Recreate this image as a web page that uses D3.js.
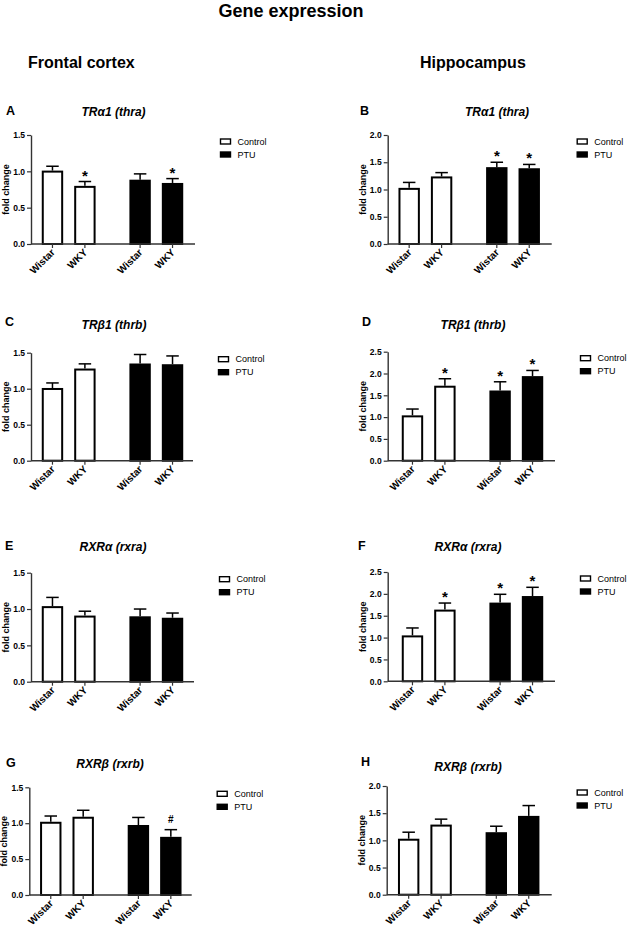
<!DOCTYPE html>
<html>
<head>
<meta charset="utf-8">
<script src="https://cdn.jsdelivr.net/npm/d3@7"></script>
<style>
  html, body { margin: 0; padding: 0; background: #fff; }
  svg { display: block; }
  text { font-family: "Liberation Sans", Arial, Helvetica, sans-serif; fill: #000; }
</style>
</head>
<body>
<svg id="chart" width="635" height="937"></svg>
<script>
// ---------- data ----------
const groups = ["Control", "PTU"];
const strains = ["Wistar", "WKY"];
const panelLetters = ["A", "B", "C", "D", "E", "F", "G", "H"];
const panelTitles = ["TRα1 (thra)", "TRα1 (thra)", "TRβ1 (thrb)", "TRβ1 (thrb)",
                     "RXRα (rxra)", "RXRα (rxra)", "RXRβ (rxrb)", "RXRβ (rxrb)"];
const columnTitles = ["Frontal cortex", "Hippocampus"];
const mainTitle = "Gene expression";
const yAxisLabel = "fold change";
const yMaxes = [1.5, 2.0, 1.5, 2.5, 1.5, 2.5, 1.5, 2.0];
const tickStep = 0.5;
// order of values: Control-Wistar, Control-WKY, PTU-Wistar, PTU-WKY
const meanA = [1.01, 0.80, 0.885, 0.84];
const semA  = [0.06, 0.06, 0.08, 0.06];
const sigA  = ["", "*", "", "*"];
const meanB = [1.03, 1.24, 1.41, 1.39];
const semB  = [0.10, 0.07, 0.09, 0.07];
const sigB  = ["", "", "*", "*"];
const meanC = [1.01, 1.28, 1.35, 1.34];
const semC  = [0.07, 0.065, 0.125, 0.115];
const sigC  = ["", "", "", ""];
const meanD = [1.04, 1.72, 1.61, 1.94];
const semD  = [0.145, 0.16, 0.20, 0.13];
const sigD  = ["", "*", "*", "*"];
const meanE = [1.04, 0.91, 0.90, 0.88];
const semE  = [0.12, 0.06, 0.10, 0.065];
const sigE  = ["", "", "", ""];
const meanF = [1.05, 1.64, 1.80, 1.95];
const semF  = [0.17, 0.15, 0.19, 0.20];
const sigF  = ["", "*", "*", "*"];
const meanG = [1.02, 1.09, 0.975, 0.81];
const semG  = [0.08, 0.09, 0.105, 0.10];
const sigG  = ["", "", "", "#"];
const meanH = [1.03, 1.29, 1.15, 1.45];
const semH  = [0.12, 0.10, 0.11, 0.19];
const sigH  = ["", "", "", ""];

const means = [meanA, meanB, meanC, meanD, meanE, meanF, meanG, meanH];
const sems  = [semA, semB, semC, semD, semE, semF, semG, semH];
const sigs  = [sigA, sigB, sigC, sigD, sigE, sigF, sigG, sigH];

// ---------- layout (positions only) ----------
const layout = [
  {x0: 31,    x1: 195,   yT: 135,   yB: 244,   shift: 0,   lab: [6, 115],   title: [113.5, 116]},
  {x0: 387.7, x1: 551.7, yT: 135,   yB: 244,   shift: 0,   lab: [360, 115], title: [497, 116]},
  {x0: 31,    x1: 193,   yT: 352.7, yB: 460.7, shift: 0,   lab: [5, 326],   title: [114, 329]},
  {x0: 387.7, x1: 555,   yT: 351.7, yB: 460.7, shift: 3.3, lab: [362, 326], title: [473, 329]},
  {x0: 31,    x1: 194,   yT: 572.7, yB: 681.7, shift: 0,   lab: [5, 550],   title: [113, 551]},
  {x0: 387.7, x1: 555,   yT: 572,   yB: 681.3, shift: 3.3, lab: [358, 550], title: [468, 551]},
  {x0: 29.3,  x1: 191.7, yT: 787.3, yB: 895,   shift: 0,   lab: [6, 767],   title: [110, 768]},
  {x0: 386.7, x1: 551.7, yT: 786,   yB: 894.7, shift: 0.5, lab: [361, 766], title: [468, 771]}
];
const plotWidth = 163;

const svg = d3.select("#chart");

// headings
svg.append("text").attr("x", 291).attr("y", 17).attr("text-anchor", "middle")
  .style("font-size", "18px").style("font-weight", "bold").text(mainTitle);
svg.append("text").attr("x", 28).attr("y", 68)
  .style("font-size", "16px").style("font-weight", "bold").text(columnTitles[0]);
svg.append("text").attr("x", 420).attr("y", 68)
  .style("font-size", "16px").style("font-weight", "bold").text(columnTitles[1]);

layout.forEach((L, i) => {
  const g = svg.append("g");
  const yMax = yMaxes[i];
  const y = d3.scaleLinear().domain([0, yMax]).range([L.yB, L.yT]);
  const outer = d3.scaleBand().domain(groups)
    .range([L.x0 + L.shift, L.x0 + L.shift + plotWidth])
    .paddingInner(0.26).paddingOuter(0.06);
  const inner = d3.scaleBand().domain(strains)
    .range([0, outer.bandwidth()]).paddingInner(0.34).paddingOuter(0.17);

  const rows = [];
  groups.forEach((grp, gi) => strains.forEach((st, si) => {
    const k = gi * 2 + si;
    rows.push({grp, st, mean: means[i][k], sem: sems[i][k], sig: sigs[i][k]});
  }));
  const xLeft = d => outer(d.grp) + inner(d.st);
  const xMid = d => xLeft(d) + inner.bandwidth() / 2;

  // letter & title
  g.append("text").attr("x", L.lab[0]).attr("y", L.lab[1])
    .style("font-size", "12.5px").style("font-weight", "bold").text(panelLetters[i]);
  g.append("text").attr("x", L.title[0]).attr("y", L.title[1]).attr("text-anchor", "middle")
    .style("font-size", "12px").style("font-weight", "bold").style("font-style", "italic")
    .text(panelTitles[i]);

  // error bars (upper only)
  const capW = 12.5;
  g.selectAll(".err").data(rows).join("line")
    .attr("x1", xMid).attr("x2", xMid)
    .attr("y1", d => y(d.mean)).attr("y2", d => y(d.mean + d.sem))
    .attr("stroke", "#000").attr("stroke-width", 1.5);
  g.selectAll(".cap").data(rows).join("line")
    .attr("x1", d => xMid(d) - capW / 2).attr("x2", d => xMid(d) + capW / 2)
    .attr("y1", d => y(d.mean + d.sem)).attr("y2", d => y(d.mean + d.sem))
    .attr("stroke", "#000").attr("stroke-width", 1.5);

  // bars
  g.selectAll(".bar").data(rows).join("rect")
    .attr("x", d => xLeft(d) + 1).attr("width", inner.bandwidth() - 2)
    .attr("y", d => y(d.mean) + 1).attr("height", d => y(0) - y(d.mean) - 1)
    .attr("fill", d => d.grp === "Control" ? "#fff" : "#000")
    .attr("stroke", "#000").attr("stroke-width", 2);

  // significance marks
  g.selectAll(".sig").data(rows.filter(d => d.sig)).join("text")
    .attr("x", xMid)
    .attr("y", d => y(d.mean + d.sem) - (d.sig === "#" ? 7 : 1))
    .attr("text-anchor", "middle")
    .style("font-size", d => d.sig === "#" ? "10px" : "15px")
    .style("font-weight", "bold")
    .text(d => d.sig);

  // y axis
  const yAxis = d3.axisLeft(y)
    .tickValues(d3.range(0, yMax + 1e-9, tickStep))
    .tickFormat(d3.format(".1f"))
    .tickSize(4).tickSizeOuter(0).tickPadding(2);
  const ya = g.append("g").attr("transform", `translate(${L.x0},0)`).call(yAxis);
  ya.select(".domain").attr("stroke", "#333").attr("stroke-width", 1.4);
  ya.selectAll(".tick line").attr("stroke", "#333").attr("stroke-width", 1.2);
  ya.selectAll(".tick text").style("font-size", "8.5px").style("font-weight", "bold")
    .style("font-family", "'Liberation Sans', Arial, sans-serif").attr("fill", "#000");

  // x axis
  g.append("line").attr("x1", L.x0).attr("x2", L.x1).attr("y1", L.yB).attr("y2", L.yB)
    .attr("stroke", "#333").attr("stroke-width", 1.4);
  g.selectAll(".xt").data(rows).join("line")
    .attr("x1", xMid).attr("x2", xMid).attr("y1", L.yB).attr("y2", L.yB + 4)
    .attr("stroke", "#333").attr("stroke-width", 1.2);
  g.selectAll(".xl").data(rows).join("text")
    .attr("transform", d => `translate(${xMid(d) + 3},${L.yB + 9}) rotate(-45)`)
    .attr("text-anchor", "end")
    .style("font-size", "10px").style("font-weight", "bold")
    .text(d => d.st);

  // y label
  g.append("text")
    .attr("transform", `translate(${L.x0 - 22},${(L.yT + L.yB) / 2}) rotate(-90)`)
    .attr("text-anchor", "middle")
    .style("font-size", "9px").style("font-weight", "bold")
    .text(yAxisLabel);

  // legend
  const lx = L.x1 + 25.5, ly = L.yT + 6.5;
  groups.forEach((grp, gi) => {
    const cy = ly + gi * 13;
    g.append("rect").attr("x", lx).attr("y", cy - 2.5).attr("width", 10).attr("height", 5)
      .attr("fill", grp === "Control" ? "#fff" : "#000").attr("stroke", "#000").attr("stroke-width", 1.4);
    g.append("text").attr("x", lx + 17).attr("y", cy + 3.2)
      .style("font-size", "9px").text(grp);
  });
});
</script>
</body>
</html>
